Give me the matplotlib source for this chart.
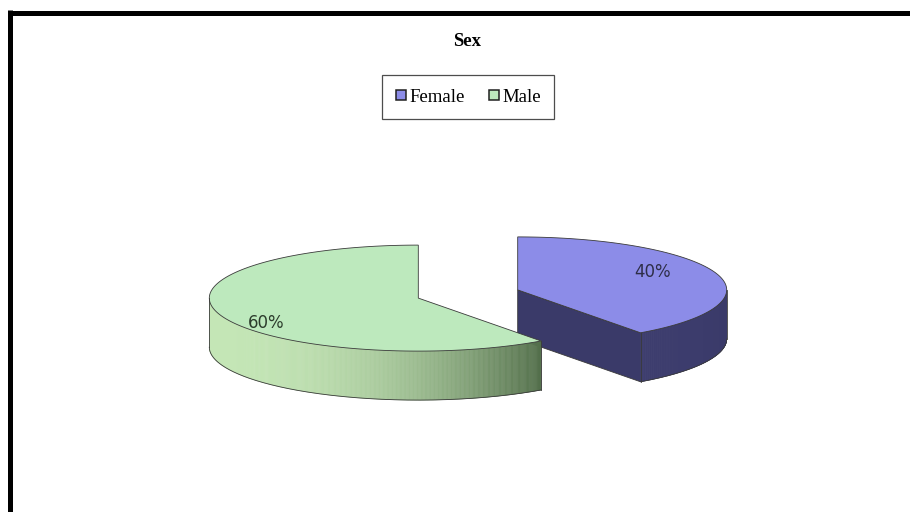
import numpy as np
import matplotlib

matplotlib.use("Agg")
import matplotlib.pyplot as plt
from matplotlib.colors import to_rgb
from matplotlib.lines import Line2D
from matplotlib.patches import Polygon

# data
categories = ["Female", "Male"]
shares = [40, 60]
slice_labels = ["40%", "60%"]
chart_title = "Sex"

# colours
top_colors = ["#8c8ce8", "#bde9bd"]
side_light = ["#3d3d6e", "#c4e6b6"]
side_dark = ["#3a3a69", "#536f4b"]
label_colors = ["#2e2e48", "#2c3c2c"]
edge = "#3a3a3a"

W, H = 910, 512
fig = plt.figure(figsize=(W / 100, H / 100), dpi=100)
ax = fig.add_axes([0, 0, 1, 1])
ax.set_xlim(0, W)
ax.set_ylim(H, 0)
ax.axis("off")

# pie layout in pixels
cx, cy = 468, 294
rx, ry, depth = 209, 53, 49
explode = 0.25
label_pos = [(0.73, 28), (0.87, 213)]  # (radius fraction, angle in deg)


def pt(c, t, r=1.0, dz=0.0):
    t = np.radians(t)
    return c[0] + r * rx * np.cos(t), c[1] - r * ry * np.sin(t) + dz


total = sum(shares)
start = 90.0
slices = []
for i, v in enumerate(shares):
    sweep = 360.0 * v / total
    t_hi, t_lo = start, start - sweep
    mid = np.radians((t_hi + t_lo) / 2)
    c = (cx + explode * rx * np.cos(mid), cy - explode * ry * np.sin(mid))
    slices.append((c, t_lo, t_hi))
    start = t_lo

for i, (c, t_lo, t_hi) in enumerate(slices):
    # radial side faces
    for t, normal in ((t_lo, t_lo - 90), (t_hi, t_hi + 90)):
        if np.sin(np.radians(normal)) < -1e-6:
            p = pt(c, t)
            quad = [c, p, (p[0], p[1] + depth), (c[0], c[1] + depth)]
            ax.add_patch(Polygon(quad, closed=True, facecolor=side_dark[i],
                                 edgecolor=edge, linewidth=0.6))
    # outer curved face, front half only, shaded left to right
    ts = np.linspace(t_lo, t_hi, 600)
    front = ts[np.sin(np.radians(ts)) < 0]
    if len(front) > 1:
        xs = np.array([pt(c, t)[0] for t in front])
        x0, x1 = xs.min(), xs.max()
        lo, hi = np.array(to_rgb(side_light[i])), np.array(to_rgb(side_dark[i]))
        for a, b in zip(front[:-1], front[1:]):
            pa, pb = pt(c, a), pt(c, b)
            f = ((pa[0] + pb[0]) / 2 - x0) / (x1 - x0)
            f = np.clip(f, 0, 1) ** 2.2
            col = lo + (hi - lo) * f
            ax.add_patch(Polygon([pa, pb, (pb[0], pb[1] + depth), (pa[0], pa[1] + depth)],
                                 closed=True, facecolor=col, edgecolor=col, linewidth=0.4))
        bottom = [pt(c, t, dz=depth) for t in front]
        ax.plot([p[0] for p in bottom], [p[1] for p in bottom], color=edge, lw=0.6)
        for t in (front[0], front[-1]):
            p = pt(c, t)
            ax.plot([p[0], p[0]], [p[1], p[1] + depth], color=edge, lw=0.6)
    # top face
    arc = [pt(c, t) for t in np.linspace(t_lo, t_hi, 200)]
    ax.add_patch(Polygon([c] + arc, closed=True, facecolor=top_colors[i],
                         edgecolor=edge, linewidth=0.6))
    r, t = label_pos[i]
    lx, ly = pt(c, t, r)
    ax.text(lx, ly, slice_labels[i], ha="center", va="center", fontsize=12,
            family="DejaVu Sans", color=label_colors[i])

# title and legend
ax.text(467, 41, chart_title, ha="center", va="center", fontsize=13.5,
        fontweight="bold", family="Liberation Serif")
handles = [Line2D([], [], marker="s", linestyle="none", markersize=6.5,
                  markerfacecolor=top_colors[i], markeredgecolor="#202020",
                  markeredgewidth=1.1) for i in range(len(categories))]
leg = fig.legend(handles, categories, loc="center", ncol=2,
                 bbox_to_anchor=(468 / W, 1 - 97 / H), frameon=True, fancybox=False,
                 edgecolor="#202020", handlelength=0.6, handletextpad=0.15,
                 columnspacing=1.25, borderpad=0.7,
                 prop={"family": "Liberation Serif", "size": 13.5})
leg.get_frame().set_linewidth(0.9)

# outer frame
ax.plot([9.5, W], [12.5, 12.5], color="black", lw=3.6, solid_capstyle="butt")
ax.plot([9.5, 9.5], [10, H], color="black", lw=3.6, solid_capstyle="butt")

fig.savefig("out.png", dpi=100)
